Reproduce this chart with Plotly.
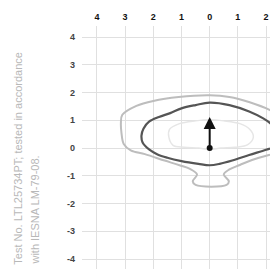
import plotly.graph_objects as go

# Tick values / labels
x_ticks = [-4, -3, -2, -1, 0, 1, 2]
x_tick_text = ["4", "3", "2", "1", "0", "1", "2"]
y_ticks = [4, 3, 2, 1, 0, -1, -2, -3, -4]
y_tick_text = ["4", "3", "2", "1", "0", "-1", "-2", "-3", "-4"]

# Dark (main) isoline contour
dark_x = [0, 0.7, 1.4, 1.9, 2.2, 2.42, 2.45, 2.3, 2.0, 1.4, 0.8, 0.35, 0, -0.4, -1.0, -1.5, -1.85,
          -2.15, -2.38, -2.42, -2.35, -2.15, -1.8, -1.4, -1.0, -0.5, 0]
dark_y = [1.64, 1.55, 1.32, 1.07, 0.85, 0.55, 0.3, 0.05, -0.06, -0.25, -0.45, -0.57, -0.62, -0.57,
          -0.47, -0.35, -0.23, -0.05, 0.2, 0.45, 0.7, 0.95, 1.12, 1.26, 1.43, 1.55, 1.64]

# Light outer isoline contour
outer_x = [0, 0.7, 1.42, 2.14, 2.6, 3.0, 3.15, 3.1, 2.8, 2.1, 1.5, 1.07, 0.7, 0.5, 0.68, 0.6,
           -0.5, -0.6, -0.45, -0.7, -1.07, -1.6, -2.3, -2.8, -3.05, -3.13, -3.15, -3.1, -2.6, -2.0,
           -1.1, 0]
outer_y = [1.9, 1.84, 1.65, 1.37, 1.1, 0.8, 0.5, 0.15, -0.08, -0.25, -0.43, -0.61, -0.77, -0.95,
           -1.2, -1.33, -1.33, -1.2, -0.95, -0.75, -0.62, -0.45, -0.22, -0.08, 0.15, 0.55, 0.9,
           1.2, 1.52, 1.7, 1.84, 1.9]

# Faint inner isoline contour
inner_x = [0, 0.5, 1.07, 1.42, 1.55, 1.35, 0.9, 0.4, 0, -0.4, -0.9, -1.3, -1.45, -1.42, -1.07, -0.5, 0]
inner_y = [1.02, 0.98, 0.88, 0.68, 0.4, 0.12, 0.03, 0.0, -0.05, 0.0, 0.03, 0.1, 0.4, 0.68, 0.88,
           0.98, 1.02]

# Direction arrow
arrow_base = (0, 0)
arrow_tip = (0, 1.12)

fig = go.Figure()
fig.add_trace(go.Scatter(x=inner_x, y=inner_y, mode="lines",
                         line=dict(color="#e6e6e6", width=1.5, shape="spline"), hoverinfo="skip"))
fig.add_trace(go.Scatter(x=outer_x, y=outer_y, mode="lines",
                         line=dict(color="#bdbdbd", width=2, shape="spline"), hoverinfo="skip"))
fig.add_trace(go.Scatter(x=dark_x, y=dark_y, mode="lines",
                         line=dict(color="#555555", width=2.2, shape="spline"), hoverinfo="skip"))
fig.add_trace(go.Scatter(x=[arrow_base[0]], y=[arrow_base[1]], mode="markers",
                         marker=dict(color="#111", size=6), hoverinfo="skip"))
fig.add_annotation(x=arrow_tip[0], y=arrow_tip[1], ax=arrow_base[0], ay=arrow_base[1],
                   xref="x", yref="y", axref="x", ayref="y", text="", showarrow=True,
                   arrowhead=2, arrowsize=1.2, arrowwidth=2, arrowcolor="#111")

note_font = dict(family="Liberation Sans Narrow, Liberation Sans, sans-serif", size=11, color="#b8b8b8")
fig.add_annotation(xref="paper", yref="paper", x=-0.345, y=0.008, text="Test No. LTL25734PT; tested in accordance",
                   textangle=-90, showarrow=False, xanchor="center", yanchor="bottom", font=note_font)
fig.add_annotation(xref="paper", yref="paper", x=-0.25, y=0.008, text="with IESNA LM-79-08.",
                   textangle=-90, showarrow=False, xanchor="center", yanchor="bottom", font=note_font)

tick_family = "Liberation Sans Narrow, Liberation Sans, sans-serif"
fig.update_layout(
    width=270, height=269,
    margin=dict(l=82, r=0, t=26, b=0, autoexpand=False),
    plot_bgcolor="white", paper_bgcolor="white",
    showlegend=False,
    xaxis=dict(range=[-4.53, 2.14], side="top", tickvals=x_ticks, ticktext=x_tick_text,
               showgrid=True, gridcolor="#e0e0e0", gridwidth=1, zeroline=False, showline=False,
               tickfont=dict(family=tick_family, size=9, color="#111", weight="bold"),
               ticklabelstandoff=3, automargin=False, fixedrange=True),
    yaxis=dict(range=[-4.36, 4.40], tickvals=y_ticks, ticktext=y_tick_text,
               showgrid=True, gridcolor="#e0e0e0", gridwidth=1, zeroline=False, showline=False,
               tickfont=dict(family=tick_family, size=9, color="#444", weight="bold"),
               ticklabelstandoff=6, automargin=False, fixedrange=True),
)

fig.write_html("out.html", config={"displayModeBar": False},
               post_script="document.body.style.margin='0';document.body.style.overflow='hidden';")
